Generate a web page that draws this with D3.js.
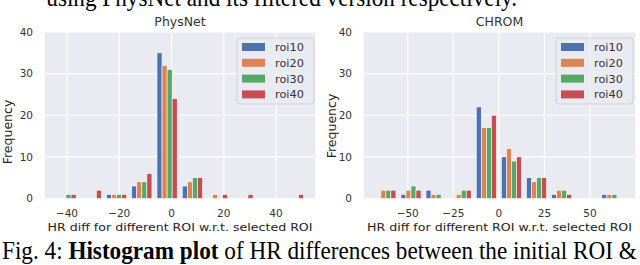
<!DOCTYPE html>
<html>
<head>
<meta charset="utf-8">
<script src="https://cdn.jsdelivr.net/npm/d3@7"></script>
<style>
  body { margin: 0; background: #fff; }
  svg { display: block; }
</style>
</head>
<body>
<div id="fig"></div>
<script>
// Séries (mêmes couleurs pour les deux histogrammes)
const seriesNames = ["roi10", "roi20", "roi30", "roi40"];
const seriesColors = ["#4C72B0", "#DD8452", "#55A868", "#C44E52"];
const yTicks = [0, 10, 20, 30, 40];

// PhysNet : bords des classes et effectifs par ROI
const physnetEdges = [-45.2, -35.53, -25.86, -16.19, -6.52, 3.15, 12.82, 22.49, 32.16, 41.83, 51.5];
const physnetRoi10 = [0, 0, 1, 3, 35, 3, 0, 0, 0, 0];
const physnetRoi20 = [0, 0, 1, 4, 32, 4, 1, 0, 0, 0];
const physnetRoi30 = [1, 0, 1, 4, 31, 5, 0, 0, 0, 0];
const physnetRoi40 = [1, 2, 1, 6, 24, 5, 1, 1, 0, 1];
const physnetXTicks = [-40, -20, 0, 20, 40];

// CHROM
const chromEdges = [-68.9, -55.12, -41.34, -27.56, -13.78, 0, 13.78, 27.56, 41.34, 55.12, 68.9];
const chromRoi10 = [0, 1, 2, 0, 22, 10, 5, 1, 0, 1];
const chromRoi20 = [2, 2, 1, 1, 17, 12, 4, 2, 0, 1];
const chromRoi30 = [2, 3, 1, 2, 17, 9, 5, 2, 0, 1];
const chromRoi40 = [2, 2, 0, 2, 20, 10, 5, 1, 0, 0];
const chromXTicks = [-50, -25, 0, 25, 50];

const xLabel = "HR diff for different ROI w.r.t. selected  ROI";
const width = 640;
const height = 265;
const sansFont = "'DejaVu Sans', sans-serif";
const serifFont = "'Liberation Serif', 'Times New Roman', serif";

const svg = d3.select("#fig")
  .append("svg")
  .attr("width", width)
  .attr("height", height);

function createHistogram(cfg) {
  const top = 32, bottom = 198.5;
  const x = d3.scaleLinear().domain(cfg.xDomain).range([cfg.left, cfg.right]);
  const y = d3.scaleLinear().domain([0, 40]).range([bottom, top]);
  const fmt = d3.format("");

  const g = svg.append("g").attr("class", "hist");

  // fond gris façon seaborn
  g.append("rect")
    .attr("x", cfg.left).attr("y", top)
    .attr("width", cfg.right - cfg.left).attr("height", bottom - top)
    .attr("fill", "#EAEAF2");

  // grille
  g.selectAll("line.hgrid")
    .data(yTicks)
    .join("line")
    .attr("x1", cfg.left).attr("x2", cfg.right)
    .attr("y1", d => y(d)).attr("y2", d => y(d))
    .attr("stroke", "#fff").attr("stroke-width", 1.1);

  g.selectAll("line.vgrid")
    .data(cfg.xTicks)
    .join("line")
    .attr("x1", d => x(d)).attr("x2", d => x(d))
    .attr("y1", top).attr("y2", bottom)
    .attr("stroke", "#fff").attr("stroke-width", 1.1);

  // barres groupées (rwidth 0.8 comme matplotlib)
  const bars = [];
  cfg.counts.forEach((counts, s) => {
    counts.forEach((c, i) => {
      if (c > 0) bars.push({ s, i, c });
    });
  });

  g.selectAll("rect.bar")
    .data(bars)
    .join("rect")
    .attr("class", "bar")
    .each(function(d) {
      const x0 = x(cfg.edges[d.i]);
      const x1 = x(cfg.edges[d.i + 1]);
      const w = x1 - x0;
      const band = d3.scaleBand()
        .domain(seriesNames)
        .range([x0 + 0.1 * w, x1 - 0.1 * w]);
      d3.select(this)
        .attr("x", band(seriesNames[d.s]))
        .attr("width", band.bandwidth())
        .attr("y", y(d.c))
        .attr("height", y(0) - y(d.c));
    })
    .attr("fill", d => seriesColors[d.s])
    .attr("stroke", "#fff")
    .attr("stroke-width", 0.6);

  // graduations
  g.selectAll("text.ytick")
    .data(yTicks)
    .join("text")
    .attr("x", cfg.left - 12)
    .attr("y", d => y(d))
    .attr("dy", "0.36em")
    .attr("text-anchor", "end")
    .attr("font-family", sansFont)
    .attr("font-size", 10.5)
    .attr("fill", "#333")
    .text(d => fmt(d));

  g.selectAll("text.xtick")
    .data(cfg.xTicks)
    .join("text")
    .attr("x", d => x(d))
    .attr("y", 217)
    .attr("text-anchor", "middle")
    .attr("font-family", sansFont)
    .attr("font-size", 10.5)
    .attr("fill", "#333")
    .text(d => fmt(d));

  // titre et libellés
  g.append("text")
    .attr("x", (cfg.left + cfg.right) / 2)
    .attr("y", 26)
    .attr("text-anchor", "middle")
    .attr("font-family", sansFont)
    .attr("font-size", 12.5)
    .attr("fill", "#333")
    .text(cfg.title);

  g.append("text")
    .attr("transform", `translate(${cfg.ylabelX},${cfg.ylabelY}) rotate(-90)`)
    .attr("text-anchor", "middle")
    .attr("font-family", sansFont)
    .attr("font-size", 12.5)
    .attr("fill", "#222")
    .text("Frequency");

  g.append("text")
    .attr("x", (cfg.left + cfg.right) / 2)
    .attr("y", 231)
    .attr("text-anchor", "middle")
    .attr("font-family", sansFont)
    .attr("font-size", 11)
    .attr("textLength", 265)
    .attr("lengthAdjust", "spacingAndGlyphs")
    .attr("fill", "#222")
    .text(xLabel);

  // légende
  const lg = g.append("g").attr("transform", `translate(${cfg.legendX},38)`);
  lg.append("rect")
    .attr("width", 77).attr("height", 66).attr("rx", 3)
    .attr("fill", "#EAEAF2").attr("fill-opacity", 0.85)
    .attr("stroke", "#ccc").attr("stroke-width", 0.8);

  const rows = lg.selectAll("g.row")
    .data(seriesNames)
    .join("g")
    .attr("transform", (d, i) => `translate(0,${9 + i * 15.8})`);

  rows.append("rect")
    .attr("x", 5).attr("y", -4)
    .attr("width", 23).attr("height", 8)
    .attr("fill", (d, i) => seriesColors[i]);

  rows.append("text")
    .attr("x", 38)
    .attr("dy", "0.36em")
    .attr("font-family", sansFont)
    .attr("font-size", 11.3)
    .attr("fill", "#333")
    .text(d => d);
}

createHistogram({
  title: "PhysNet",
  edges: physnetEdges,
  counts: [physnetRoi10, physnetRoi20, physnetRoi30, physnetRoi40],
  xTicks: physnetXTicks,
  xDomain: [-48.4, 54.9],
  left: 45, right: 315,
  ylabelX: 11.5, ylabelY: 132,
  legendX: 237
});

createHistogram({
  title: "CHROM",
  edges: chromEdges,
  counts: [chromRoi10, chromRoi20, chromRoi30, chromRoi40],
  xTicks: chromXTicks,
  xDomain: [-74, 74.7],
  left: 364, right: 635,
  ylabelX: 336, ylabelY: 126,
  legendX: 556
});

// texte de l'article autour de la figure
const caption = svg.append("text")
  .attr("x", 2)
  .attr("y", 259)
  .attr("font-family", serifFont)
  .attr("font-size", 25)
  .attr("fill", "#000");
caption.append("tspan").text("Fig. 4: ");
caption.append("tspan").attr("font-weight", "bold").text("Histogram plot");
caption.append("tspan").text(" of HR differences between the initial ROI &");

const capW = caption.node().getBBox().width;
const sx = 635 / capW;
caption.attr("transform", `translate(2,0) scale(${sx},1) translate(-2,0)`);

// ligne du texte précédent, coupée par le haut du cadre
svg.append("text")
  .attr("x", 517)
  .attr("y", 6)
  .attr("text-anchor", "end")
  .attr("font-family", serifFont)
  .attr("font-size", 25)
  .attr("fill", "#000")
  .attr("transform", `translate(517,0) scale(${sx},1) translate(-517,0)`)
  .text("using PhysNet and its filtered version respectively.");
</script>
</body>
</html>
